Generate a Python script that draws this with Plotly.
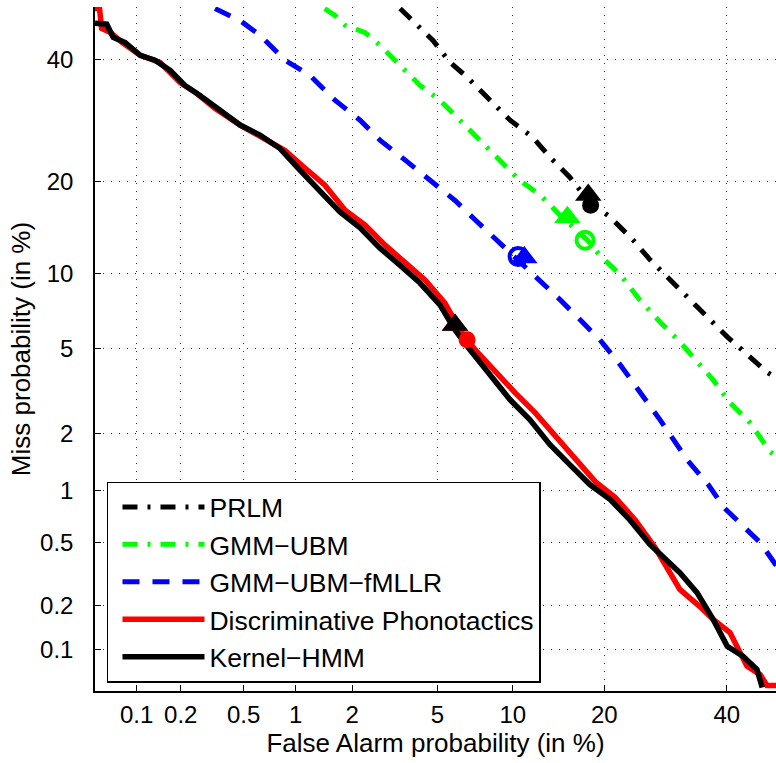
import numpy as np
import plotly.graph_objects as go

# ---------------- data (percent) ----------------
tick_pct = [0.1, 0.2, 0.5, 1, 2, 5, 10, 20, 40]
tick_text = ["0.1", "0.2", "0.5", "1", "2", "5", "10", "20", "40"]

prlm_fa = [3.41, 4.79, 5.66, 6.66, 8.00, 9.77, 11.8, 13.5, 15.7, 17.9, 20.8, 24.1,
           26.7, 29.9, 32.9, 40.1, 44.4, 47.8, 49.4]
prlm_miss = [49.7, 43.6, 39.5, 36.8, 33.2, 29.3, 26.5, 23.5, 20.6, 17.6, 15.6, 13.1,
             11.2, 9.46, 8.15, 5.63, 4.62, 3.92, 3.72]

gmm_fa = [1.44, 1.63, 1.84, 2.32, 2.74, 3.41, 4.20, 5.13, 6.23, 7.50, 8.96, 10.6,
          12.5, 14.6, 17.8, 19.4, 22.2, 25.1, 28.3, 31.6, 34.8, 37.5, 40.6, 44.4, 48.2, 49.4]
gmm_miss = [49.7, 48.4, 46.5, 45.1, 42.7, 38.9, 35.3, 32.7, 29.3, 26.1, 23.1, 20.2,
            18.3, 15.8, 13.1, 11.6, 9.9, 7.94, 6.49, 5.36, 4.35, 3.64, 2.85, 2.27, 1.62, 1.53]

fmllr_fa = [0.333, 0.476, 0.626, 0.873, 1.20, 1.63, 2.19, 2.74, 3.59, 4.65, 5.94, 7.17,
            8.58, 10.2, 12.0, 14.6, 16.9, 19.4, 22.2, 25.1, 28.3, 33.0, 36.6, 39.5, 42.7, 46.3, 49.4]
fmllr_miss = [49.7, 47.4, 44.6, 39.9, 37.1, 32.7, 29.3, 26.1, 23.1, 20.2, 17.6, 15.3,
              13.3, 11.4, 9.86, 7.94, 6.62, 5.47, 4.26, 3.21, 2.35, 1.45, 1.08, 0.80, 0.648, 0.50, 0.36]

disc_fa = [0.05, 0.054, 0.056, 0.065, 0.079, 0.106, 0.145, 0.198, 0.248, 0.332, 0.476,
           0.642, 0.873, 1.13, 1.44, 1.84, 2.32, 2.90, 3.59, 4.42, 5.39, 6.23, 7.17, 8.58,
           10.2, 12.0, 14.0, 16.3, 18.8, 21.5, 24.4, 27.5, 31.6, 35.1, 37.5, 40.6, 43.8,
           46.3, 47.6, 49.4]
disc_miss = [49.7, 49.7, 45.9, 45.1, 43.2, 40.8, 39.5, 35.8, 34.1, 31.3, 28.5,
             26.5, 24.5, 21.9, 19.6, 16.4, 14.7, 12.6, 11.0, 9.46, 7.72, 6.02, 4.96, 3.96,
             3.17, 2.55, 1.98, 1.47, 1.12, 0.914, 0.68, 0.466, 0.254, 0.196, 0.161, 0.131, 0.076,
             0.066, 0.055, 0.055]

khmm_fa = [0.05, 0.061, 0.068, 0.083, 0.106, 0.134, 0.170, 0.213, 0.267, 0.357, 0.476,
           0.626, 0.818, 1.06, 1.36, 1.73, 2.19, 2.74, 3.41, 4.20, 5.13, 5.94, 6.84, 8.21,
           9.77, 11.5, 13.5, 15.7, 18.1, 20.8, 23.6, 26.7, 31.6, 34.6, 37.5, 40.1, 43.1,
           45.7, 46.7]
khmm_miss = [46.9, 46.7, 44.2, 43.2, 40.8, 39.9, 38.0, 35.3, 33.5, 31.0, 28.5,
             26.9, 24.8, 21.6, 18.9, 16.2, 14.4, 12.3, 10.7, 9.21, 7.59, 6.02, 4.96, 3.84,
             2.94, 2.36, 1.76, 1.38, 1.08, 0.89, 0.68, 0.485, 0.325, 0.242, 0.161, 0.105, 0.089,
             0.072, 0.053]

# operating points (percent): triangle = actual decision, circle = min DCF
prlm_tri = (17.9, 18.3)
prlm_circ = (18.2, 17.0)
gmm_tri = (15.4, 15.6)
gmm_circ = (17.5, 13.1)
fmllr_tri = (11.0, 11.4)
fmllr_circ = (10.45, 11.5)
disc_tri = (5.94, 6.31)
disc_circ = (6.66, 5.47)
khmm_tri = (5.94, 6.31)

axis_min_pct = 0.05


# ---------------- normal-deviate (probit) scale ----------------
def probit(p):
    p = np.asarray(p, dtype=float)
    a = [-3.969683028665376e+01, 2.209460984245205e+02, -2.759285104469687e+02,
         1.383577518672690e+02, -3.066479806614716e+01, 2.506628277459239e+00]
    b = [-5.447609879822406e+01, 1.615858368580409e+02, -1.556989798598866e+02,
         6.680131188771972e+01, -1.328068155288572e+01]
    c = [-7.784894002430293e-03, -3.223964580411365e-01, -2.400758277161838e+00,
         -2.549732539343734e+00, 4.374664141464968e+00, 2.938163982698783e+00]
    d = [7.784695709041462e-03, 3.224671290700398e-01, 2.445134137142996e+00,
         3.754408661907416e+00]
    plow = 0.02425
    out = np.empty_like(p)
    lo = p < plow
    hi = p > 1 - plow
    mid = ~(lo | hi)
    q = np.sqrt(-2 * np.log(p[lo]))
    out[lo] = (((((c[0]*q+c[1])*q+c[2])*q+c[3])*q+c[4])*q+c[5]) / \
              ((((d[0]*q+d[1])*q+d[2])*q+d[3])*q+1)
    q = p[mid] - 0.5
    r = q*q
    out[mid] = (((((a[0]*r+a[1])*r+a[2])*r+a[3])*r+a[4])*r+a[5])*q / \
               (((((b[0]*r+b[1])*r+b[2])*r+b[3])*r+b[4])*r+1)
    q = np.sqrt(-2 * np.log(1 - p[hi]))
    out[hi] = -(((((c[0]*q+c[1])*q+c[2])*q+c[3])*q+c[4])*q+c[5]) / \
               ((((d[0]*q+d[1])*q+d[2])*q+d[3])*q+1)
    return out


def pz(v):
    return probit(np.asarray(v, dtype=float) / 100.0)


FONT = "Liberation Sans, Arial, Helvetica, sans-serif"
fig = go.Figure()

curves = [
    ("PRLM", prlm_fa, prlm_miss, "#000000", "15px,10px,3px,10px", 5),
    ("GMM\u2212UBM", gmm_fa, gmm_miss, "#00FF00", "15px,10px,3px,10px", 5),
    ("GMM\u2212UBM\u2212fMLLR", fmllr_fa, fmllr_miss, "#0000FF", "17px,13px", 5),
    ("Discriminative Phonotactics", disc_fa, disc_miss, "#FF0000", "solid", 5.5),
    ("Kernel\u2212HMM", khmm_fa, khmm_miss, "#000000", "solid", 5.5),
]
for name, fa, miss, col, dash, w in curves:
    fig.add_trace(go.Scatter(x=pz(fa), y=pz(miss), mode="lines", name=name,
                             line=dict(color=col, width=w, dash=dash)))

marks = [
    (prlm_tri, "triangle-up", "#000000"), (prlm_circ, "circle", "#000000"),
    (gmm_tri, "triangle-up", "#00FF00"), (gmm_circ, "circle-open", "#00FF00"),
    (fmllr_circ, "circle-open", "#0000FF"), (fmllr_tri, "triangle-up", "#0000FF"),
    (disc_tri, "triangle-up", "#FF0000"), (disc_circ, "circle", "#FF0000"),
    (khmm_tri, "triangle-up", "#000000"),
]
for (fx, my), sym, col in marks:
    size = 23 if "triangle" in sym else 17
    fig.add_trace(go.Scatter(x=pz([fx]), y=pz([my]), mode="markers", showlegend=False,
                             marker=dict(symbol=sym, size=size, color=col,
                                         line=dict(color=col, width=4 if sym == "circle-open" else 0))))

zmin = float(pz([axis_min_pct])[0])
common = dict(tickvals=pz(tick_pct), ticktext=tick_text, showgrid=True,
              gridcolor="#333333", gridwidth=1, griddash="1px,7px",
              showline=True, linecolor="#000000", linewidth=1.5,
              ticks="inside", ticklen=6, tickcolor="#000000", tickwidth=1,
              tickfont=dict(family=FONT, size=24, color="#000000"),
              zeroline=False, mirror=False, automargin=False)

fig.update_layout(
    width=776, height=763,
    margin=dict(l=95, r=0, t=7, b=72),
    paper_bgcolor="white", plot_bgcolor="white",
    font=dict(family=FONT, color="#000000"),
    xaxis=dict(range=[zmin, zmin + 681 / 208.0],
               title=dict(text="False Alarm probability (in %)",
                          font=dict(family=FONT, size=26), standoff=2),
               ticklabelstandoff=1, **common),
    yaxis=dict(range=[zmin, 0.0],
               title=dict(text="Miss probability (in %)",
                          font=dict(family=FONT, size=26), standoff=2),
               ticklabelstandoff=15, **common),
    legend=dict(x=0.0176, y=0.306, xanchor="left", yanchor="top",
                bgcolor="white", bordercolor="#000000", borderwidth=1.5,
                font=dict(family=FONT, size=26.5, color="#000000"),
                itemwidth=82, tracegroupgap=0, indentation=9),
    showlegend=True,
)

fig.write_html("out.html", config={"displayModeBar": False},
               post_script="document.body.style.margin='0';document.body.style.overflow='hidden';")
